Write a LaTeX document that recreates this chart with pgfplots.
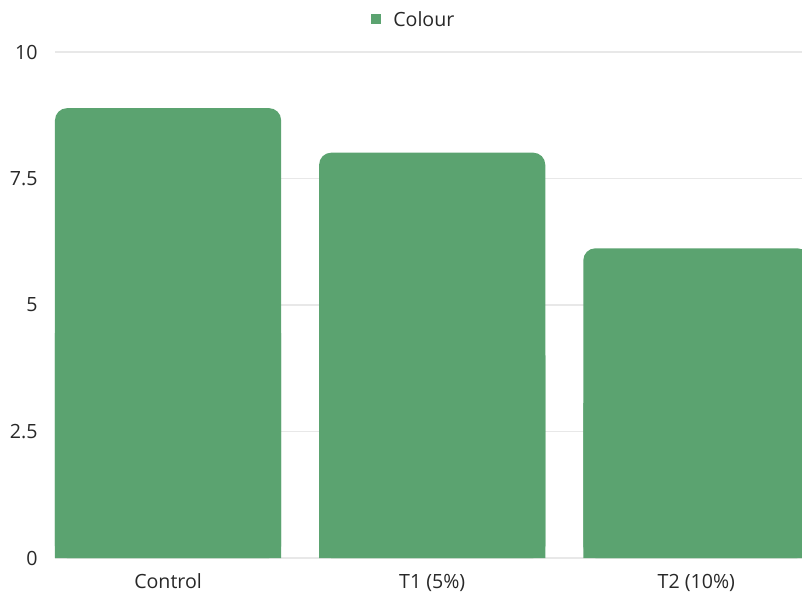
\documentclass[border=0pt]{standalone}
\usepackage{fontspec}
\setmainfont{Open Sans}
\usepackage{pgfplots}
\pgfplotsset{compat=1.18}
\usepackage{pgfplotstable}
\definecolor{barg}{RGB}{91,163,112}
\definecolor{gridc}{RGB}{232,232,232}
\definecolor{txt}{RGB}{40,40,40}
\pgfplotstableread{
x v
0 8.89
1 8.01
2 6.12
}\datatable
\begin{document}
\begin{tikzpicture}
\begin{axis}[
  scale only axis,
  width=373.5pt, height=253pt,
  xmin=-0.428, xmax=2.4,
  ymin=0, ymax=10,
  ytick={0,2.5,5,7.5,10},
  yticklabels={0,2.5,5,7.5,10},
  xtick={0,1,2},
  xticklabels={Control,T1 (5\%),T2 (10\%)},
  major tick length=0pt,
  axis line style={draw=none},
  ymajorgrids,
  grid style={gridc, line width=0.6pt},
  tick label style={font=\fontsize{9.8pt}{11pt}\selectfont, text=txt},
  yticklabel style={anchor=east, inner sep=0pt, xshift=-8.5pt},
  xticklabel style={anchor=base, inner sep=0pt, yshift=-15pt},
  legend style={at={(0.479,1)}, anchor=center, yshift=16.5pt, draw=none,
    font=\fontsize{9.8pt}{11pt}\selectfont, text=txt, inner sep=0pt,
    nodes={inner sep=0pt, text depth=0pt}},
  clip=true,
]
\addplot[ybar, bar width=0.856, fill=barg, draw=none, rounded corners=6pt,
  legend image code/.code={\fill[barg, sharp corners] (0pt,-2.5pt) rectangle (5pt,2.5pt); \path (11pt,0pt);}]
  table[x=x, y=v] {\datatable};
\addlegendentry{Colour}
\addplot[ybar, bar width=0.856, fill=barg, draw=none, forget plot] table[x=x, y expr=\thisrow{v}/2] {\datatable};
\end{axis}
\pgfresetboundingbox
\path[use as bounding box] ([xshift=-27.5pt, yshift=-18pt]current axis.south west) rectangle ([yshift=26pt]current axis.north east);
\end{tikzpicture}
\end{document}
